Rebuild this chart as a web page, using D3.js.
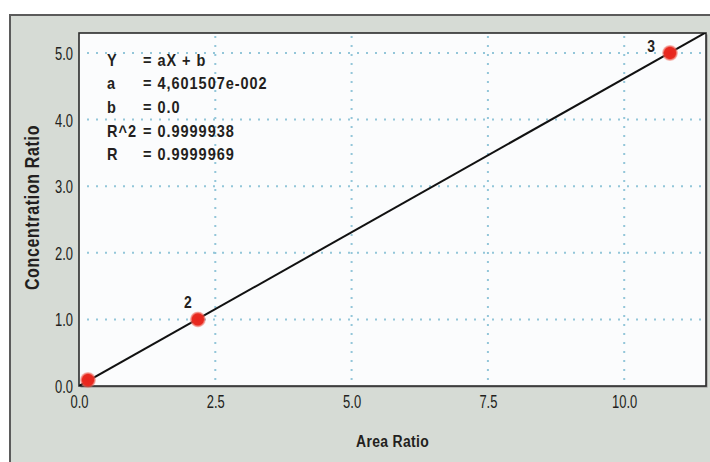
<!DOCTYPE html>
<html>
<head>
<meta charset="utf-8">
<script src="https://cdn.jsdelivr.net/npm/d3@7"></script>
<style>
  html, body { margin: 0; padding: 0; background: #fff; }
  svg { display: block; }
  text { font-family: "Liberation Sans", Arial, sans-serif; fill: #231f20; }
</style>
</head>
<body>
<script>
var width = 710;
var height = 462;
// no condensed font available, so squeeze Liberation Sans horizontally
var tickSqueeze = 0.72;
var boldSqueeze = 0.82;
var statSqueeze = 0.88;

// data
var areaRatio = [0.165, 2.18, 10.84];
var concRatio = [0.09, 1.0, 5.0];
var pointLabels = ['', '2', '3'];
var fitX = [0, 11.5];
var fitY = [0, 5.31];
var xTicks = [0, 2.5, 5, 7.5, 10];
var yTicks = [0, 1, 2, 3, 4, 5];
var statNames = ['Y', 'a', 'b', 'R^2', 'R'];
var statValues = ['= aX + b', '= 4,601507e-002', '= 0.0', '= 0.9999938', '= 0.9999969'];

var plot = { left: 79, right: 706, top: 33, bottom: 386 };

var svg = d3.select('body').append('svg')
  .attr('width', width)
  .attr('height', height);

function narrowText(parent, tx, ty, str, sq) {
  return parent.append('text')
    .attr('transform', 'translate(' + tx + ',' + ty + ') scale(' + sq + ',1)')
    .text(str);
}

var defs = svg.append('defs');
var grad = defs.append('radialGradient').attr('id', 'dotGlow');
grad.append('stop').attr('offset', '0%').attr('stop-color', '#e8231c');
grad.append('stop').attr('offset', '70%').attr('stop-color', '#e82a20');
grad.append('stop').attr('offset', '100%').attr('stop-color', '#f27a6c').attr('stop-opacity', 0.35);

// outer panel
svg.append('rect')
  .attr('x', 10).attr('y', 15)
  .attr('width', width).attr('height', height)
  .attr('fill', '#d6dbd5')
  .attr('stroke', '#5b5b5b')
  .attr('stroke-width', 2);

// plot background
svg.append('rect')
  .attr('x', plot.left + 1.5).attr('y', plot.top + 1.5)
  .attr('width', plot.right - plot.left).attr('height', plot.bottom - plot.top)
  .attr('fill', '#8d8d8d');
svg.append('rect')
  .attr('x', plot.left).attr('y', plot.top)
  .attr('width', plot.right - plot.left).attr('height', plot.bottom - plot.top)
  .attr('fill', '#fbfcfd')
  .attr('stroke', '#2b2b2b')
  .attr('stroke-width', 1.6);

var x = d3.scaleLinear().domain([0, 11.5]).range([plot.left, plot.right]);
var y = d3.scaleLinear().domain([0, 5.3]).range([plot.bottom, plot.top]);

// dotted grid
var grid = svg.append('g')
  .attr('stroke', '#93c6d9')
  .attr('stroke-width', 2)
  .attr('stroke-dasharray', '2,7')
  .attr('stroke-linecap', 'butt');

grid.selectAll('.hgrid')
  .data(yTicks.filter(function (d) { return d > 0; }))
  .enter().append('line')
  .attr('class', 'hgrid')
  .attr('x1', plot.left + 8).attr('x2', plot.right - 4)
  .attr('y1', function (d) { return y(d); })
  .attr('y2', function (d) { return y(d); });

grid.selectAll('.vgrid')
  .data(xTicks.filter(function (d) { return d > 0; }))
  .enter().append('line')
  .attr('class', 'vgrid')
  .attr('x1', function (d) { return x(d); })
  .attr('x2', function (d) { return x(d); })
  .attr('y1', plot.top + 3).attr('y2', plot.bottom - 2);

// axes (labels only)
var xAxis = svg.append('g')
  .attr('transform', 'translate(0,' + (plot.bottom + 9.5) + ')')
  .call(d3.axisBottom(x).tickValues(xTicks).tickFormat(d3.format('.1f')).tickSize(0).tickPadding(0));
xAxis.select('.domain').remove();
xAxis.selectAll('text')
  .attr('dy', '0.71em')
  .attr('transform', 'scale(' + tickSqueeze + ',1)')
  .style('font-size', '18px')
  .style('font-family', '"Liberation Sans", sans-serif')
  .attr('fill', '#231f20');

var yAxis = svg.append('g')
  .attr('transform', 'translate(' + (plot.left - 6) + ',0)')
  .call(d3.axisLeft(y).tickValues(yTicks).tickFormat(d3.format('.1f')).tickSize(0).tickPadding(0));
yAxis.select('.domain').remove();
yAxis.selectAll('text')
  .attr('dy', '0.36em')
  .attr('transform', 'scale(' + tickSqueeze + ',1)')
  .style('font-size', '18px')
  .style('font-family', '"Liberation Sans", sans-serif')
  .attr('fill', '#231f20');

// fit line
var line = d3.line()
  .x(function (d) { return x(d[0]); })
  .y(function (d) { return y(d[1]); });

svg.append('clipPath').attr('id', 'plotClip')
  .append('rect')
  .attr('x', plot.left).attr('y', plot.top)
  .attr('width', plot.right - plot.left).attr('height', plot.bottom - plot.top);

svg.append('path')
  .datum(d3.zip(fitX, fitY))
  .attr('d', line)
  .attr('clip-path', 'url(#plotClip)')
  .attr('fill', 'none')
  .attr('stroke', '#111')
  .attr('stroke-width', 2);

// points
var pts = d3.range(areaRatio.length).map(function (i) {
  return { x: areaRatio[i], y: concRatio[i], label: pointLabels[i] };
});

svg.selectAll('.pt')
  .data(pts)
  .enter().append('circle')
  .attr('class', 'pt')
  .attr('cx', function (d) { return x(d.x); })
  .attr('cy', function (d) { return y(d.y); })
  .attr('r', 8)
  .attr('fill', 'url(#dotGlow)');

// point numbers sit up-left of their dot; the top one is pushed sideways by the frame
var ptLabels = svg.append('g')
  .attr('text-anchor', 'middle')
  .style('font-size', '17px')
  .style('font-weight', 'bold');
pts.forEach(function (d) {
  if (!d.label) return;
  var nearTop = y(d.y) - plot.top < 30;
  narrowText(ptLabels, x(d.x) + (nearTop ? -19 : -10), y(d.y) + (nearTop ? -1 : -11.5), d.label, boldSqueeze);
});

// regression stats
var stats = svg.append('g')
  .style('font-size', '16.5px')
  .style('font-weight', 'bold')
  .style('letter-spacing', '1.1px');

statNames.forEach(function (s, i) {
  narrowText(stats, 107, 65.7 + i * 23.6, s, statSqueeze);
});
statValues.forEach(function (s, i) {
  narrowText(stats, 143, 65.7 + i * 23.6, s, statSqueeze);
});

// axis titles
narrowText(svg, (plot.left + plot.right) / 2, 447, 'Area Ratio', boldSqueeze)
  .attr('text-anchor', 'middle')
  .style('font-size', '17px')
  .style('font-weight', 'bold')
  .style('letter-spacing', '0.4px');

svg.append('text')
  .attr('transform', 'translate(39,' + ((plot.top + plot.bottom) / 2 - 2) + ') rotate(-90) scale(' + boldSqueeze + ',1)')
  .attr('text-anchor', 'middle')
  .style('font-size', '19.5px')
  .style('font-weight', 'bold')
  .style('letter-spacing', '0.8px')
  .text('Concentration Ratio');
</script>
</body>
</html>
